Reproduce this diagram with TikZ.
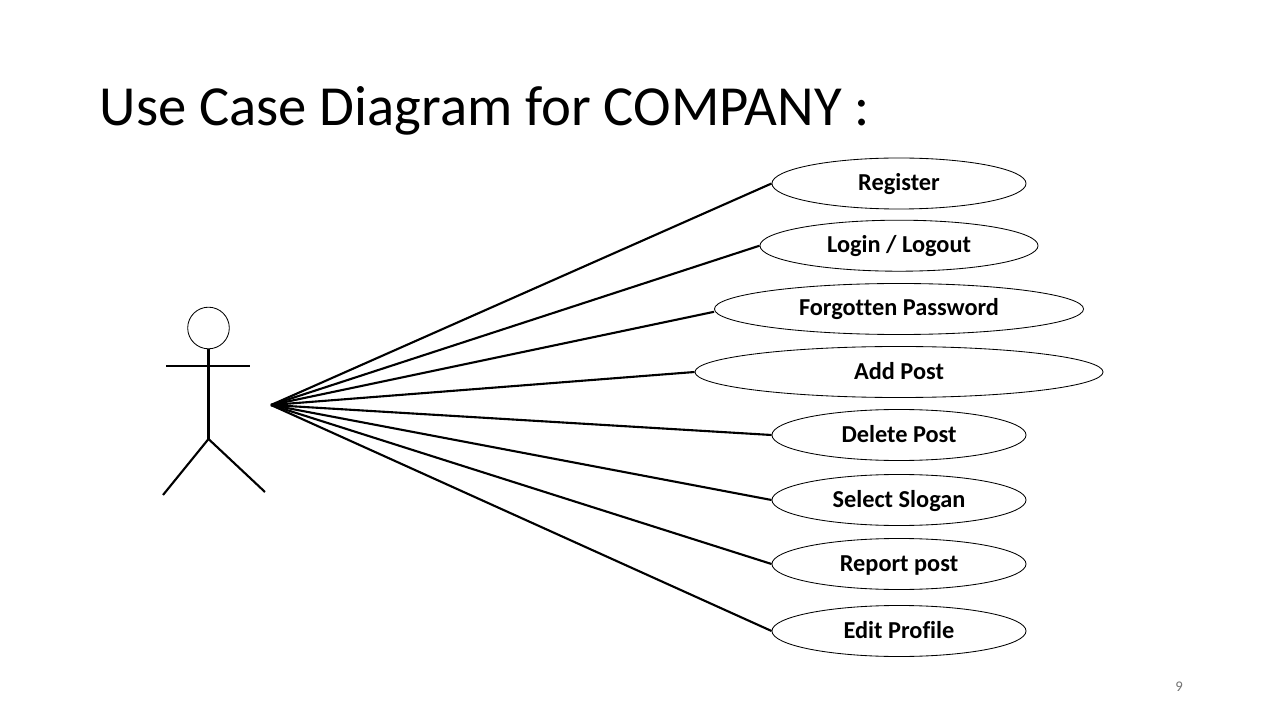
\documentclass[tikz,border=0pt]{standalone}
\usepackage{fontspec}
\setmainfont[RawFeature={-liga}]{Carlito}
\usetikzlibrary{shapes.geometric}
\tikzset{
    usecasenode/.style={
        ellipse,
        draw,
        line width=0.6pt,
        minimum height=1.275cm,
        inner sep=0,
        text height=0.45cm,
        text depth=0.1cm,
        font=\fontsize{17.3}{20}\selectfont\bfseries
    },
    linkline/.style={
        draw,
        line width=1.5pt
    },
    actorline/.style={
        draw,
        line width=1.5pt
    }
}
\begin{document}
\begin{tikzpicture}[x=0.025cm,y=-0.025cm]
    \useasboundingbox (0,0) rectangle (1280,720);
    % title and page number
    \node[anchor=base west,inner sep=0,font=\fontsize{40.3}{46}\selectfont] (title) at (99.5,126) {Use Case Diagram for COMPANY :};
    \node[inner sep=0,font=\fontsize{10.5}{12}\selectfont,text=black!55] (pagenum) at (1179,687) {9};
    % actor
    \node[circle,draw,line width=0.6pt,minimum size=1.04cm,inner sep=0] (head) at (208.5,328) {};
    \coordinate (hip) at (208.5,439);
    \coordinate (armleft) at (166,366);
    \coordinate (armright) at (250,366);
    \coordinate (footleft) at (163,495);
    \coordinate (footright) at (265,492);
    \coordinate (source) at (271,405);
    \draw[actorline] (head.south) -- (hip);
    \draw[actorline] (armleft) -- (armright);
    \draw[actorline] (footleft) -- (hip) -- (footright);
    % use cases
    \node[usecasenode,minimum width=6.35cm] (register) at (899,183.5) {Register};
    \node[usecasenode,minimum width=6.95cm] (login) at (899,245.7) {Login / Logout};
    \node[usecasenode,minimum width=9.225cm] (forgot) at (899,309) {Forgotten Password};
    \node[usecasenode,minimum width=10.2cm] (addpost) at (899,372) {Add Post};
    \node[usecasenode,minimum width=6.35cm] (delpost) at (899,435) {Delete Post};
    \node[usecasenode,minimum width=6.35cm] (slogan) at (899,500) {Select Slogan};
    \node[usecasenode,minimum width=6.35cm] (report) at (899,564) {Report post};
    \node[usecasenode,minimum width=6.35cm] (profile) at (899,631) {Edit Profile};
    % links
    \foreach \target in {register,login,addpost,delpost,slogan,report,profile}
        \draw[linkline] (source) -- (\target.west);
    \draw[linkline] (source) -- ([yshift=-0.07cm]forgot.west);
\end{tikzpicture}
\end{document}
